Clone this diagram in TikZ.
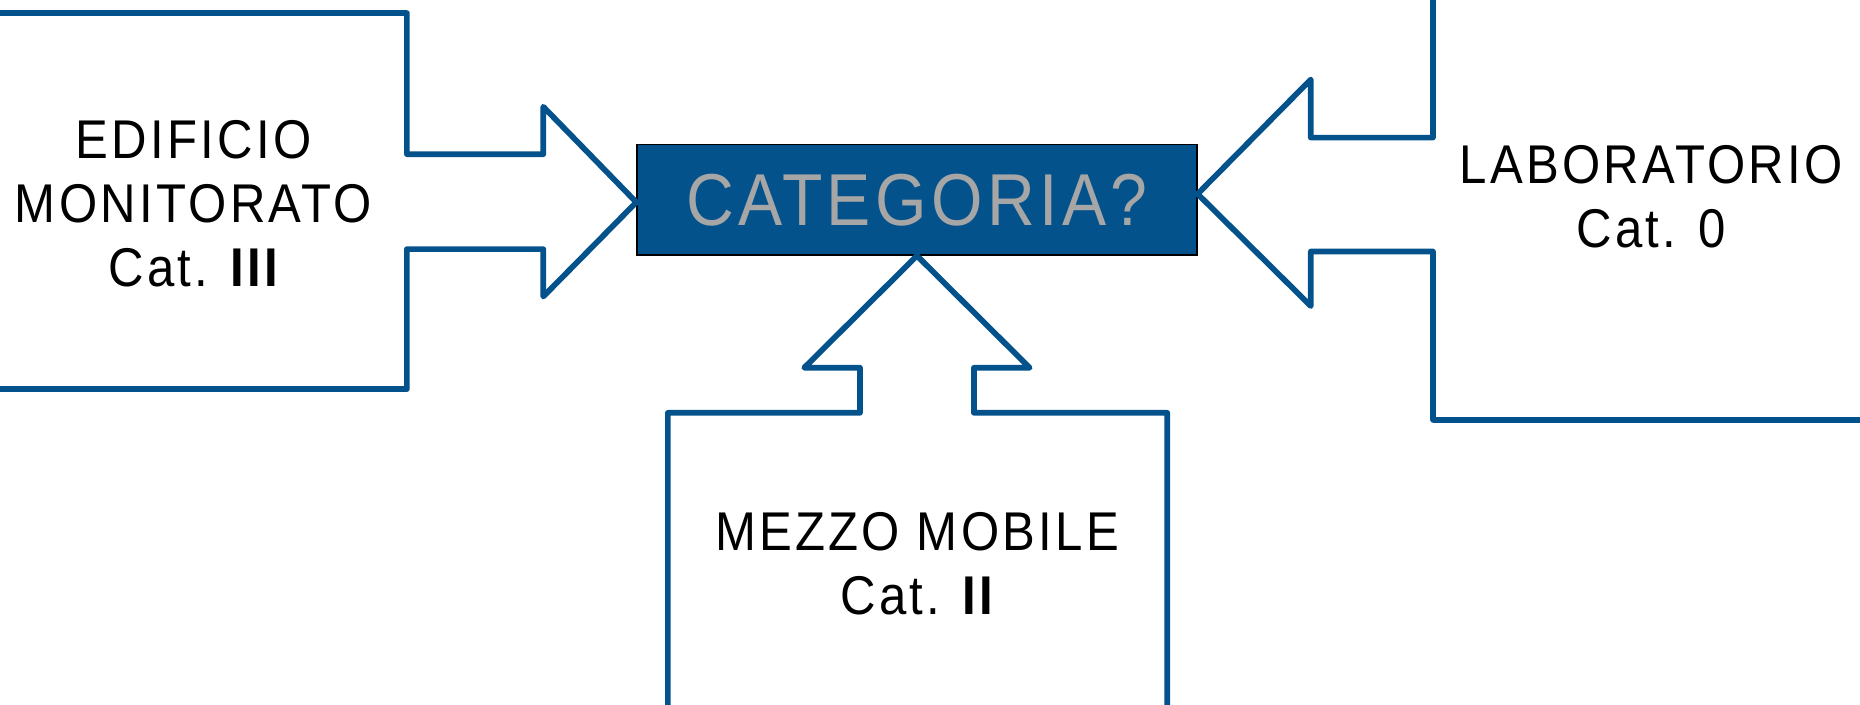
\documentclass[tikz,border=0pt]{standalone}
\usepackage{fontspec}
\newfontfamily\labelfont[FakeStretch=0.9,LetterSpace=6]{Liberation Sans}
\usetikzlibrary{positioning}
\definecolor{catblue}{RGB}{4,82,140}
\definecolor{catgray}{RGB}{166,166,166}
\tikzset{
  callout/.style={draw=catblue,line width=2.4pt,line join=round},
  catlabel/.style={font=\labelfont\fontsize{23}{27}\selectfont,align=center,text=black,inner sep=0pt},
}
\begin{document}
\begin{tikzpicture}[x=0.5pt,y=-0.5pt]
  \useasboundingbox(0,0)rectangle(1568,594);
  \clip(0,0)rectangle(1568,594);
  \node[fill=catblue,draw=black,line width=0.6pt,minimum width=236pt,minimum height=46.5pt,
        inner sep=0pt,text=catgray,font=\labelfont\fontsize{31}{36}\selectfont](cat)at(773,168.5){CATEGORIA?};
  % the three arrow-shaped callouts pointing at the box
  \draw[callout](-10,11)--(343,11)--(343,130)--(458,130)--(458,90)--([yshift=-1pt]cat.west)
        --(458,250)--(458,210)--(343,210)--(343,328)--(-10,328);
  \draw[callout](1208,-10)--(1208,116)--(1105,116)--(1105,67)--([yshift=2.5pt]cat.east)
        --(1105,258)--(1105,212)--(1208,212)--(1208,354)--(1580,354);
  \draw[callout](563,604)--(563,348)--(725,348)--(725,310)--(678,310)--(cat.south)
        --(868,310)--(821,310)--(821,348)--(984,348)--(984,604);
  \node[catlabel](edificio)at(163,172){EDIFICIO\\MONITORATO\\Cat. {\bfseries III}};
  \node[catlabel](lab)at(1392,166){LABORATORIO\\Cat. 0};
  \node[catlabel](mezzo)at(773,475){MEZZO MOBILE\\Cat. {\bfseries II}};
\end{tikzpicture}
\end{document}
